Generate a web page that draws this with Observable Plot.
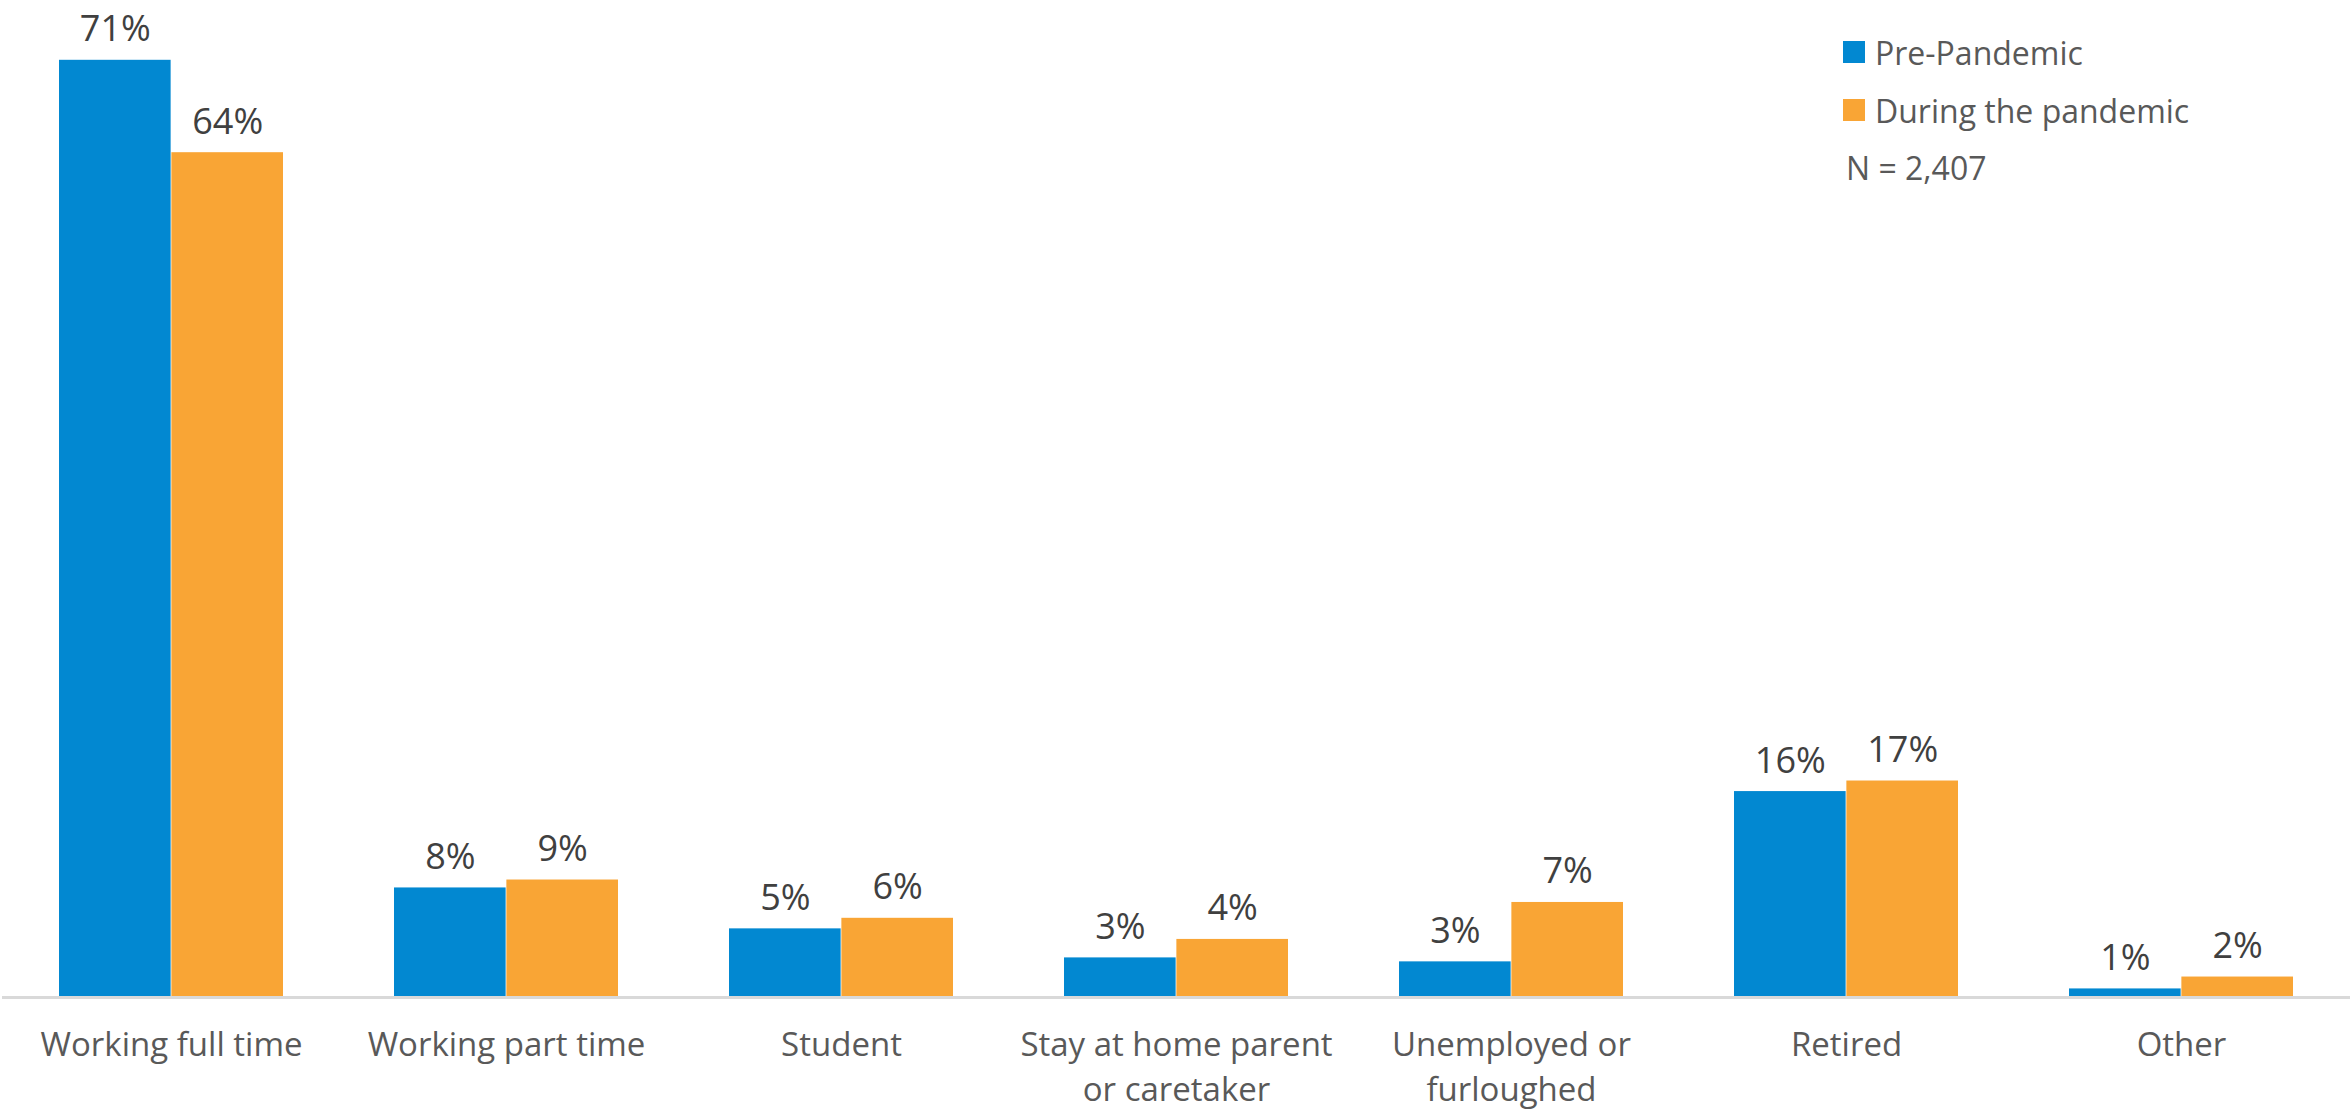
<!DOCTYPE html>
<html>
<head>
<meta charset="utf-8">
<script src="https://cdn.jsdelivr.net/npm/d3@7"></script>
<script src="https://cdn.jsdelivr.net/npm/@observablehq/plot@0.6"></script>
<style>
  body { margin: 0; background: #fff; font-family: "Open Sans", sans-serif; }
  #wrap { position: relative; width: 2350px; height: 1109px; }
  #legend { position: absolute; left: 1843px; top: 30px; color: #595959; font-size: 32px; }
  .item { display: flex; align-items: center; height: 44px; margin-bottom: 14px; }
  .sw { width: 22px; height: 22px; margin-right: 10px; }
  #n { margin-top: 13px; margin-left: 3px; }
</style>
</head>
<body>
<div id="wrap">
  <div id="chart"></div>
  <div id="legend"></div>
</div>
<script>
const categories = ["Working full time", "Working part time", "Student", "Stay at home parent\nor caretaker", "Unemployed or\nfurloughed", "Retired", "Other"];
const seriesNames = ["Pre-Pandemic", "During the pandemic"];
const preValues = [71, 8.3, 5.2, 3.0, 2.7, 15.6, 0.65];
const duringValues = [64, 8.9, 6.0, 4.4, 7.2, 16.4, 1.55];
const preLabels = ["71%", "8%", "5%", "3%", "3%", "16%", "1%"];
const duringLabels = ["64%", "9%", "6%", "4%", "7%", "17%", "2%"];
const colors = ["#0288D1", "#F9A535"];
const note = "N = 2,407";

const width = 2350, height = 1109;
const marginLeft = 2, marginRight = 0, marginTop = 7, marginBottom = 112;
const padInner = 0.33, padOuter = 0.165;
const step = (width - marginLeft - marginRight) / (categories.length - padInner + 2 * padOuter);
const bw = step * (1 - padInner);
const half = bw / 2;

const pre = categories.map((c, i) => ({cat: c, v: preValues[i], label: preLabels[i]}));
const during = categories.map((c, i) => ({cat: c, v: duringValues[i], label: duringLabels[i]}));

const chart = Plot.plot({
  width, height, marginLeft, marginRight, marginTop, marginBottom,
  style: {fontFamily: "Open Sans, sans-serif", color: "#595959", background: "#fff"},
  x: {domain: categories, paddingInner: padInner, paddingOuter: padOuter, label: null, axis: null},
  y: {domain: [0, 75], axis: null},
  marks: [
    Plot.barY(pre, {x: "cat", y: "v", fill: colors[0], insetLeft: 0, insetRight: half}),
    Plot.barY(during, {x: "cat", y: "v", fill: colors[1], insetLeft: half, insetRight: 0}),
    Plot.ruleY([0], {stroke: "#D9D9D9", strokeWidth: 3}),
    Plot.text(pre, {x: "cat", y: "v", text: "label", dx: -half / 2, dy: -19, lineAnchor: "bottom", fontSize: 36, fill: "#404040"}),
    Plot.text(during, {x: "cat", y: "v", text: "label", dx: half / 2, dy: -19, lineAnchor: "bottom", fontSize: 36, fill: "#404040"}),
    Plot.axisX({anchor: "bottom", tickSize: 0, tickPadding: 27, fontSize: 33, lineHeight: 1.36, fill: "#595959", label: null})
  ]
});
document.getElementById("chart").appendChild(chart);

const legend = document.getElementById("legend");
seriesNames.forEach((name, i) => {
  const d = document.createElement("div");
  d.className = "item";
  d.innerHTML = `<span class="sw" style="background:${colors[i]}"></span><span>${name}</span>`;
  legend.appendChild(d);
});
const n = document.createElement("div");
n.id = "n";
n.textContent = note;
legend.appendChild(n);
</script>
</body>
</html>
